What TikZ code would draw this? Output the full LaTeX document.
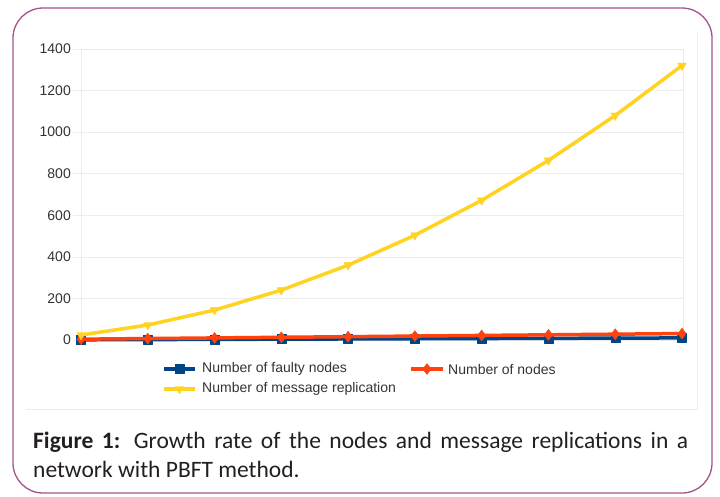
\documentclass[tikz,border=0pt]{standalone}
\usepackage{fontspec}
\setmainfont{Carlito}
\newfontfamily\chartfont{Liberation Sans}
\usepackage{xcolor}
\usetikzlibrary{positioning, plotmarks}
\definecolor{framepurple}{RGB}{166,82,140}
\definecolor{faultyblue}{HTML}{004586}
\definecolor{nodesorange}{HTML}{FF420E}
\definecolor{replyellow}{HTML}{FFD320}
\definecolor{gridgray}{RGB}{236,236,236}
\definecolor{labelgray}{RGB}{51,51,51}
\definecolor{captext}{RGB}{35,31,32}
\tikzstyle{series} = [line width=3.5pt, line join=round]
\tikzstyle{ticklabel} = [anchor=east, inner sep=0pt, text=labelgray, font=\chartfont\fontsize{14}{16}\selectfont]
\tikzstyle{legendlabel} = [anchor=west, inner sep=0pt, text=labelgray, font=\chartfont\fontsize{14}{16}\selectfont]
\tikzstyle{caption} = [anchor=base west, inner sep=0pt, text=captext, font=\fontsize{23.5}{29}\selectfont]

\begin{document}
\begin{tikzpicture}[x=1pt, y=-1pt]
        \useasboundingbox (0,0) rectangle (720,496);
        \draw[framepurple, line width=1.3pt, rounded corners=30pt] (13,8) rectangle (712,493);
        % chart area and grid
        \draw[gridgray] (26,409) -- (697,409) -- (697,33);
        \draw[gridgray] (683,49) -- (683,340);
        \foreach \v in {0,200,...,1400} {
                \draw[gridgray] (73,{340-0.2079*\v}) -- (683,{340-0.2079*\v});
                \node[ticklabel] (tick\v) at (71,{340-0.2079*\v}) {\v};
        }
        \draw[gridgray] (81,49) -- (81,340);
        % the three series
        \begin{scope}[shift={(81,340)}, x=66.78pt, y=0.2079pt]
                \draw[series, faultyblue] plot[mark=square*, mark size=4.5pt, mark options={line width=0.4pt}, domain=0:9, samples=10] (\x, {\x+1});
                \draw[series, nodesorange] plot[mark=diamond*, mark size=5.5pt, mark options={line width=0.4pt}, domain=0:9, samples=10] (\x, {3*\x+4});
                \draw[series, replyellow] plot[mark=triangle*, mark size=5pt, mark options={line width=0.4pt, rotate=180}, domain=0:9, samples=10] (\x, {12*(\x+1)*(\x+2)});
        \end{scope}
        % legend
        \node[legendlabel] (keyfaulty) at (202,369) {Number of faulty nodes};
        \node[legendlabel] (keynodes) at (448,369) {Number of nodes};
        \node[legendlabel] (keyrepl) at (202,389) {Number of message replication};
        \draw[series, faultyblue] plot[mark=square*, mark size=4.5pt, mark indices={2}, mark options={line width=0.4pt}] coordinates {([xshift=-38pt]keyfaulty.west) ([xshift=-22.5pt]keyfaulty.west) ([xshift=-7pt]keyfaulty.west)};
        \draw[series, nodesorange] plot[mark=diamond*, mark size=5.5pt, mark indices={2}, mark options={line width=0.4pt}] coordinates {([xshift=-37pt]keynodes.west) ([xshift=-21pt]keynodes.west) ([xshift=-5pt]keynodes.west)};
        \draw[series, replyellow] plot[mark=triangle*, mark size=5pt, mark indices={2}, mark options={line width=0.4pt, rotate=180}] coordinates {([xshift=-38pt]keyrepl.west) ([xshift=-22.5pt]keyrepl.west) ([xshift=-7pt]keyrepl.west)};
        % caption
        \node[caption] (capfirst) at (33,448) {\makebox[655pt][s]{\textbf{Figure 1:} Growth rate of the nodes and message replications in a}};
        \node[caption] (capsecond) at (33,477) {network with PBFT method.};
\end{tikzpicture}
\end{document}
